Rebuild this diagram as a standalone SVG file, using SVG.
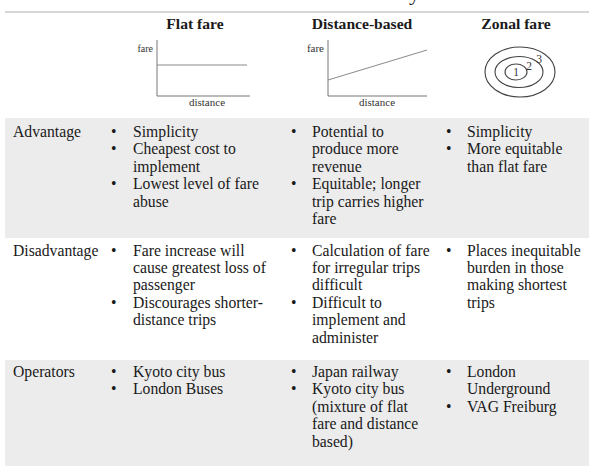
<svg xmlns="http://www.w3.org/2000/svg" width="589" height="466" viewBox="0 0 589 466">
<style>
text{font-family:"Liberation Serif","Times New Roman",serif;fill:#1a1a1a}
.t{font-size:15.7px}
.h{font-size:15.6px;font-weight:bold;text-anchor:middle}
.s{font-size:11px;fill:#333}
.z{font-size:11.5px;fill:#333}
.ax{stroke:#777;stroke-width:1;fill:none}
.ln{stroke:#8a8a8a;stroke-width:1;fill:none}
.el{stroke:#444;stroke-width:1.1;fill:none}
.bg{fill:#ececec}
</style>
<rect width="589" height="466" fill="#ffffff"/>
<text x="409" y="-0.5" style="font-size:22px">y</text>
<line x1="5" y1="12" x2="589" y2="12" stroke="#c8c8c8" stroke-width="1.5"/>
<g id="header">
<text class="h" x="195" y="29">Flat fare</text>
<text class="h" x="362" y="29">Distance-based</text>
<text class="h" x="516" y="29">Zonal fare</text>
</g>
<g id="chart-flat">
<polyline class="ax" points="157,40 157,96 250,96"/>
<line class="ln" x1="157" y1="65" x2="247" y2="65"/>
<text class="s" x="153" y="52" text-anchor="end" style="font-size:10px">fare</text>
<text class="s" x="207" y="106" text-anchor="middle">distance</text>
</g>
<g id="chart-distance">
<polyline class="ax" points="328,40 328,96 427,96"/>
<line class="ln" x1="328" y1="80" x2="427" y2="50"/>
<text class="s" x="324" y="52" text-anchor="end">fare</text>
<text class="s" x="377" y="106" text-anchor="middle">distance</text>
</g>
<g id="chart-zonal">
<ellipse class="el" cx="520" cy="72" rx="35" ry="25"/>
<ellipse class="el" cx="519" cy="72" rx="24" ry="15.5"/>
<ellipse class="el" cx="516" cy="72" rx="11" ry="8"/>
<text class="z" x="516" y="76" text-anchor="middle">1</text>
<text class="z" x="529" y="70" text-anchor="middle">2</text>
<text class="z" x="539" y="63" text-anchor="middle">3</text>
</g>
<g id="row-advantage">
<rect class="bg" x="5" y="118" width="584" height="120"/>
<text class="t" x="13" y="137">Advantage</text>
<g class="t">
<text x="111" y="137">•</text><text x="133" y="137">Simplicity</text>
<text x="111" y="154.4">•</text><text x="133" y="154.4">Cheapest cost to</text>
<text x="133" y="171.8">implement</text>
<text x="111" y="189.2">•</text><text x="133" y="189.2">Lowest level of fare</text>
<text x="133" y="206.6">abuse</text>
</g>
<g class="t">
<text x="291" y="137">•</text><text x="312" y="137">Potential to</text>
<text x="312" y="154.4">produce more</text>
<text x="312" y="171.8">revenue</text>
<text x="291" y="189.2">•</text><text x="312" y="189.2">Equitable; longer</text>
<text x="312" y="206.6">trip carries higher</text>
<text x="312" y="224">fare</text>
</g>
<g class="t">
<text x="446" y="137">•</text><text x="467" y="137">Simplicity</text>
<text x="446" y="154.4">•</text><text x="467" y="154.4">More equitable</text>
<text x="467" y="171.8">than flat fare</text>
</g>
</g>
<g id="row-disadvantage">
<text class="t" x="13" y="255.5">Disadvantage</text>
<g class="t">
<text x="111" y="255.5">•</text><text x="133" y="255.5">Fare increase will</text>
<text x="133" y="272.9">cause greatest loss of</text>
<text x="133" y="290.3">passenger</text>
<text x="111" y="307.7">•</text><text x="133" y="307.7">Discourages shorter-</text>
<text x="133" y="325.1">distance trips</text>
</g>
<g class="t">
<text x="291" y="255.5">•</text><text x="312" y="255.5">Calculation of fare</text>
<text x="312" y="272.9">for irregular trips</text>
<text x="312" y="290.3">difficult</text>
<text x="291" y="307.7">•</text><text x="312" y="307.7">Difficult to</text>
<text x="312" y="325.1">implement and</text>
<text x="312" y="342.5">administer</text>
</g>
<g class="t">
<text x="446" y="255.5">•</text><text x="467" y="255.5">Places inequitable</text>
<text x="467" y="272.9">burden in those</text>
<text x="467" y="290.3">making shortest</text>
<text x="467" y="307.7">trips</text>
</g>
</g>
<g id="row-operators">
<rect class="bg" x="5" y="360" width="584" height="106"/>
<text class="t" x="13" y="377">Operators</text>
<g class="t">
<text x="111" y="377">•</text><text x="133" y="377">Kyoto city bus</text>
<text x="111" y="394.4">•</text><text x="133" y="394.4">London Buses</text>
</g>
<g class="t">
<text x="291" y="377">•</text><text x="312" y="377">Japan railway</text>
<text x="291" y="394.4">•</text><text x="312" y="394.4">Kyoto city bus</text>
<text x="312" y="411.8">(mixture of flat</text>
<text x="312" y="429.2">fare and distance</text>
<text x="312" y="446.6">based)</text>
</g>
<g class="t">
<text x="446" y="377">•</text><text x="467" y="377">London</text>
<text x="467" y="394.4">Underground</text>
<text x="446" y="411.8">•</text><text x="467" y="411.8">VAG Freiburg</text>
</g>
</g>
</svg>
